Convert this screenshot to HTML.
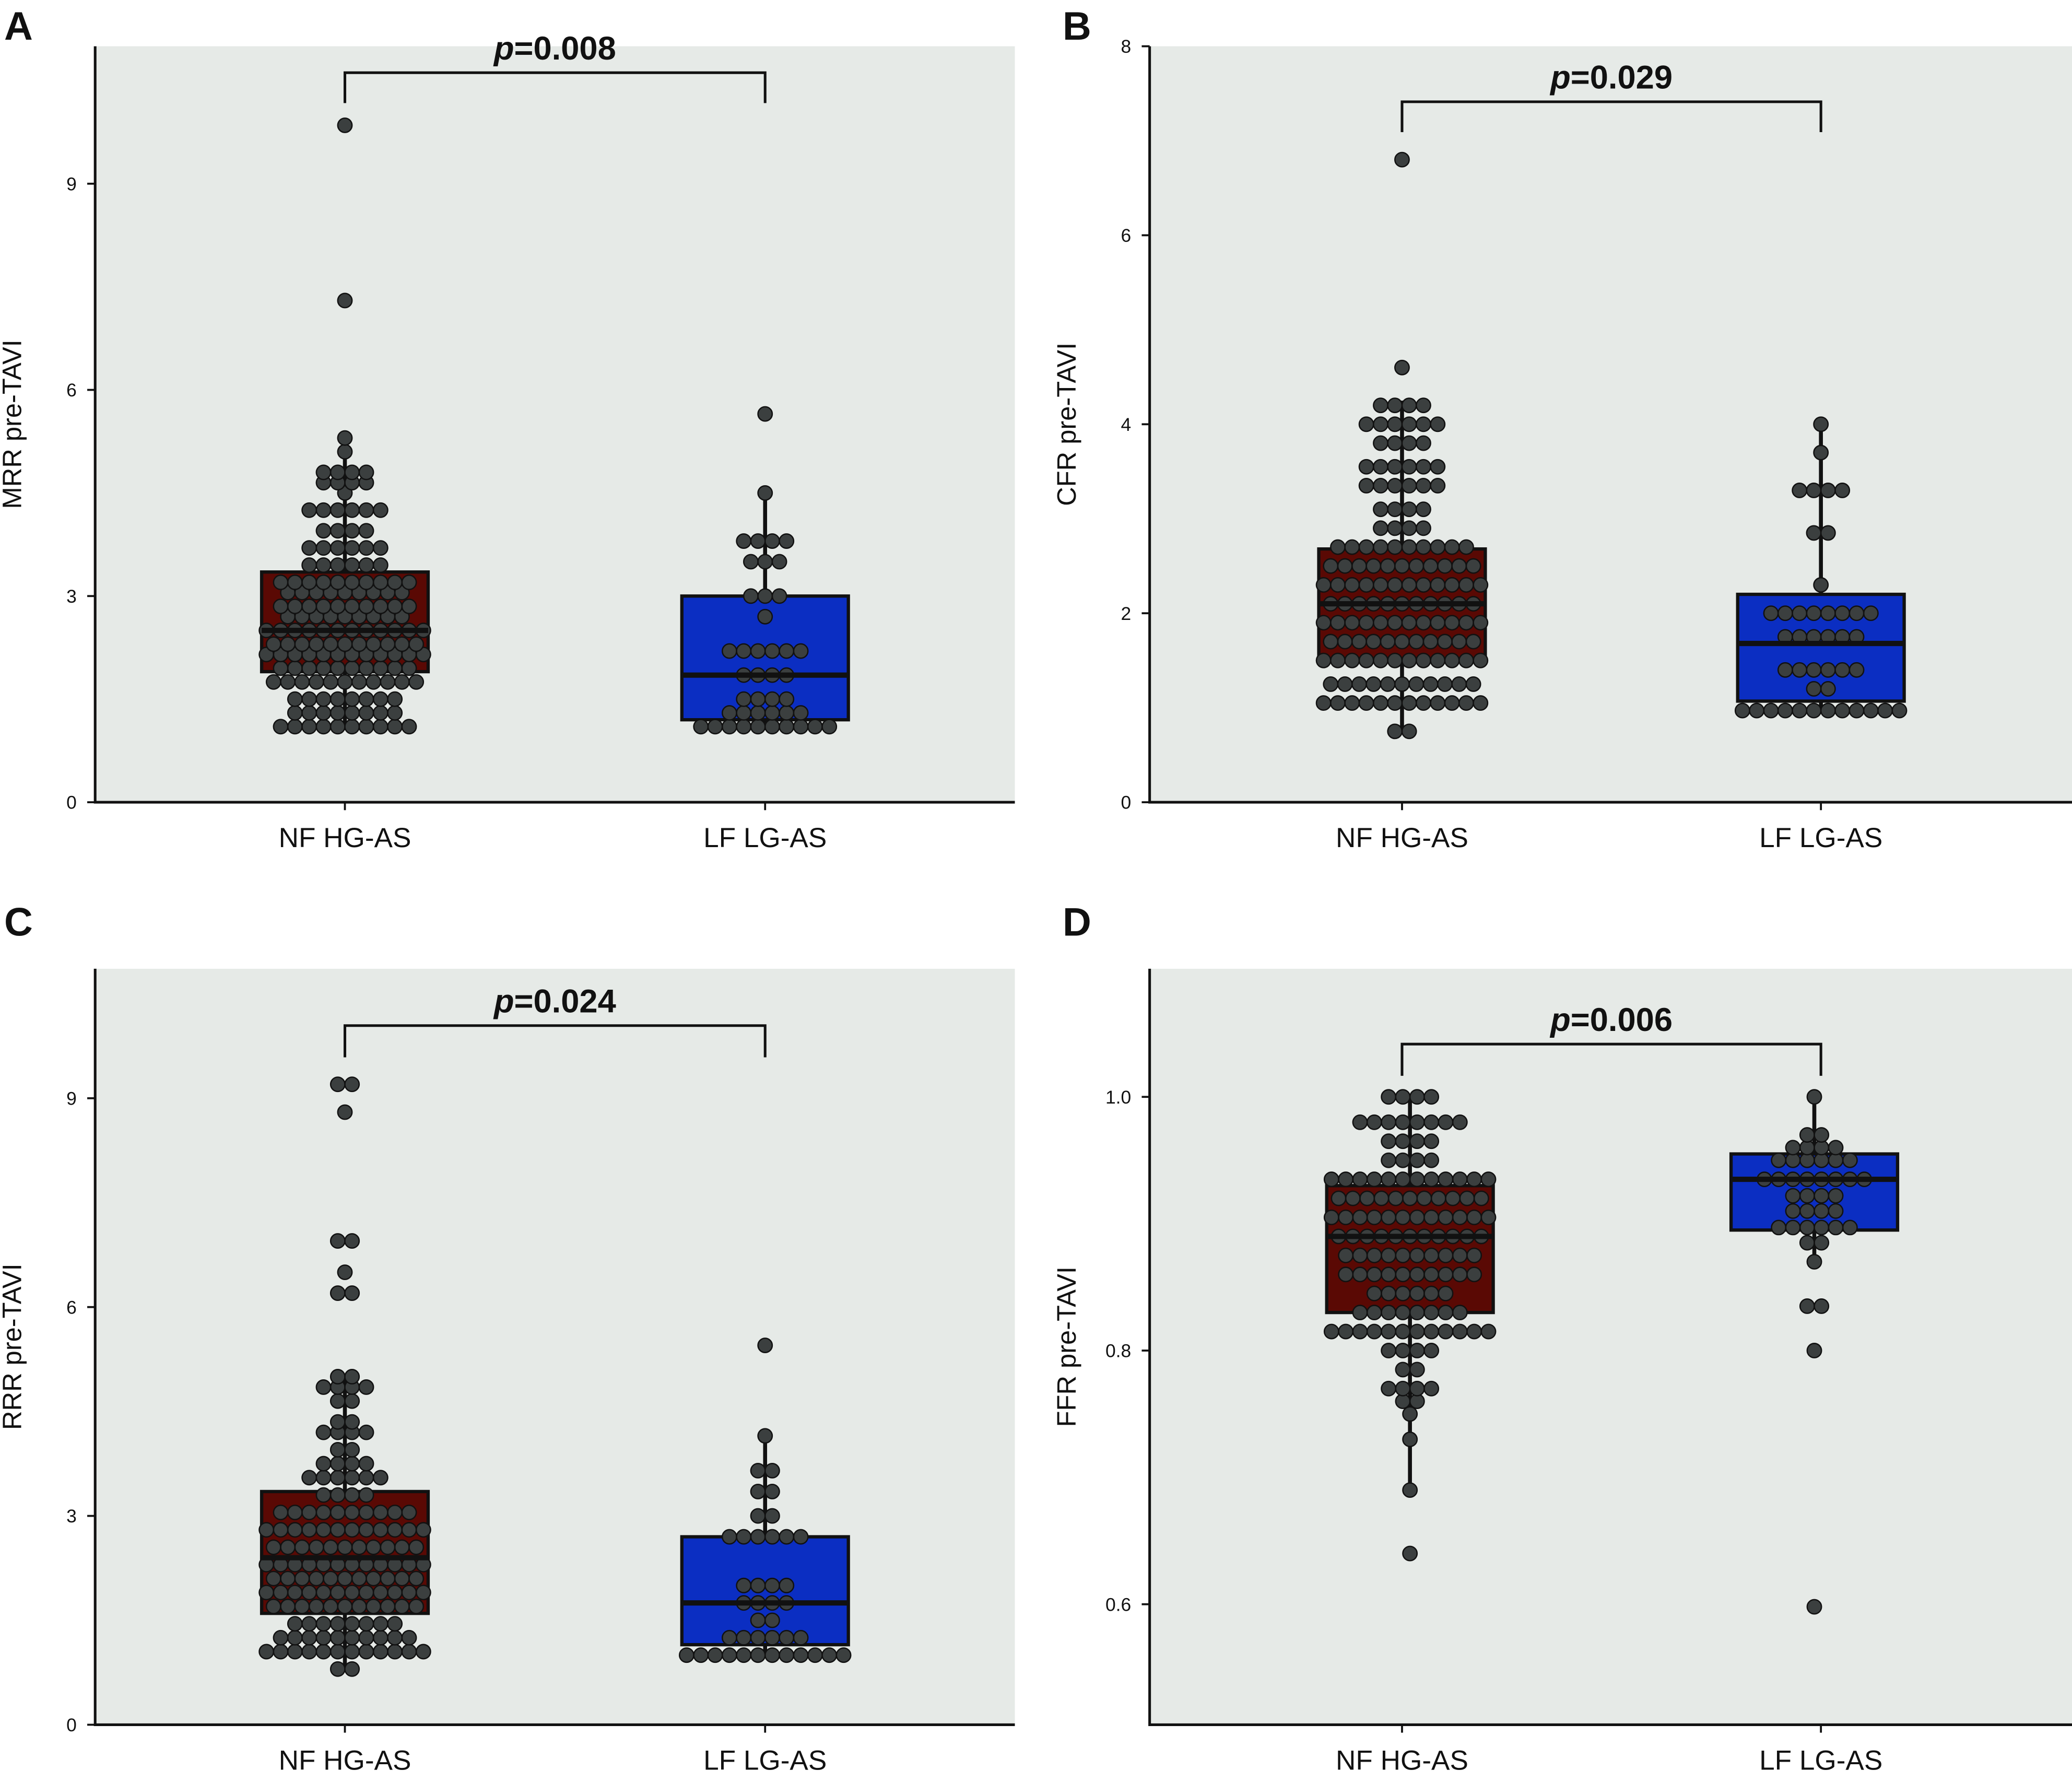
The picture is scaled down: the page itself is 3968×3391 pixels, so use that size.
<!DOCTYPE html>
<html><head><meta charset="utf-8"><style>
html,body{margin:0;padding:0;background:#fff}
svg{display:block}
text{font-family:"Liberation Sans Narrow","Liberation Sans",sans-serif;fill:#111}
</style></head><body>
<svg id="fig" width="3968" height="3391" viewBox="0 0 1568 1340" xmlns="http://www.w3.org/2000/svg"></svg>
<script>
// ---- data ----
const groups = ["NF HG-AS","LF LG-AS"];
const panelLetters = ["A","B","C","D"];
const yTitles = ["MRR pre-TAVI","CFR pre-TAVI","RRR pre-TAVI","FFR pre-TAVI"];
const pValues = ["0.008","0.029","0.024","0.006"];
const ticksA = [0,3,6,9];
const ticksB = [0,2,4,6,8];
const ticksC = [0,3,6,9];
const ticksD = [0.6,0.8,1.0];
// box stats: [whiskerLow, q1, median, q3, whiskerHigh]
const boxA_NF = [1.05,1.9,2.5,3.35,5.3];
const boxA_LF = [1.05,1.2,1.85,3.0,4.5];
const boxB_NF = [0.75,1.5,2.1,2.68,4.25];
const boxB_LF = [0.97,1.07,1.68,2.2,4.0];
const boxC_NF = [0.8,1.6,2.4,3.35,5.0];
const boxC_LF = [1.0,1.15,1.75,2.7,4.15];
const boxD_NF = [0.69,0.83,0.89,0.93,1.0];
const boxD_LF = [0.87,0.895,0.935,0.955,1.0];
// point values as [value,count]
const ptsA_NF = [[1.1,10],[1.3,8],[1.5,8],[1.75,11],[1.95,10],[2.15,12],[2.3,11],[2.5,12],[2.7,9],[2.85,10],[3.05,9],[3.2,10],[3.45,6],[3.7,6],[3.95,4],[4.25,6],[4.5,1],[4.65,4],[4.8,4],[5.1,1],[5.3,1],[7.3,1],[9.85,1]];
const ptsA_LF = [[1.1,10],[1.3,6],[1.5,4],[1.85,4],[2.2,6],[2.7,1],[3.0,3],[3.5,3],[3.8,4],[4.5,1],[5.65,1]];
const ptsB_NF = [[0.75,2],[1.05,12],[1.25,11],[1.5,12],[1.7,11],[1.9,12],[2.1,11],[2.3,12],[2.5,11],[2.7,10],[2.9,4],[3.1,4],[3.35,6],[3.55,6],[3.8,4],[4.0,6],[4.2,4],[4.6,1],[6.8,1]];
const ptsB_LF = [[0.97,12],[1.2,2],[1.4,6],[1.75,6],[2.0,8],[2.3,1],[2.85,2],[3.3,4],[3.7,1],[4.0,1]];
const ptsC_NF = [[0.8,2],[1.05,12],[1.25,10],[1.45,8],[1.7,11],[1.9,12],[2.1,11],[2.3,12],[2.55,11],[2.8,12],[3.05,10],[3.3,4],[3.55,6],[3.75,4],[3.95,2],[4.2,4],[4.35,2],[4.65,2],[4.85,4],[5.0,2],[6.2,2],[6.5,1],[6.95,2],[8.8,1],[9.2,2]];
const ptsC_LF = [[1.0,12],[1.25,6],[1.5,2],[1.75,4],[2.0,4],[2.7,6],[3.0,2],[3.35,2],[3.65,2],[4.15,1],[5.45,1]];
const ptsD_NF = [[0.64,1],[0.69,1],[0.73,1],[0.75,1],[0.76,2],[0.77,4],[0.785,2],[0.8,4],[0.815,12],[0.83,8],[0.845,6],[0.86,10],[0.875,10],[0.89,11],[0.905,12],[0.92,11],[0.935,12],[0.95,4],[0.965,4],[0.98,8],[1.0,4]];
const ptsD_LF = [[0.598,1],[0.8,1],[0.835,2],[0.87,1],[0.885,2],[0.897,6],[0.91,4],[0.922,4],[0.935,8],[0.95,6],[0.96,4],[0.97,2],[1.0,1]];

const NS="http://www.w3.org/2000/svg";
const svg=document.getElementById('fig');
function el(tag,attrs,parent){const e=document.createElementNS(NS,tag);for(const k in attrs)e.setAttribute(k,attrs[k]);(parent||svg).appendChild(e);return e;}

const panels=[
 {x0:72,x1:768,y0:35,y1:607,vmin:0,vmax:11,ticks:ticksA,dec:0,cx:[261,579],bx:[261,579],boxes:[boxA_NF,boxA_LF],pts:[ptsA_NF,ptsA_LF],brY:55,brD:23,lx:14,ly:18},
 {x0:870,x1:1568,y0:35,y1:607,vmin:0,vmax:8,ticks:ticksB,dec:0,cx:[1061,1378],bx:[1061,1378],boxes:[boxB_NF,boxB_LF],pts:[ptsB_NF,ptsB_LF],brY:77,brD:23,lx:815,ly:18},
 {x0:72,x1:768,y0:733,y1:1305,vmin:0,vmax:10.86,ticks:ticksC,dec:0,cx:[261,579],bx:[261,579],boxes:[boxC_NF,boxC_LF],pts:[ptsC_NF,ptsC_LF],brY:776,brD:24,lx:14,ly:696},
 {x0:870,x1:1568,y0:733,y1:1305,vmin:0.505,vmax:1.101,ticks:ticksD,dec:1,cx:[1061,1378],bx:[1067,1373],boxes:[boxD_NF,boxD_LF],pts:[ptsD_NF,ptsD_LF],brY:790,brD:24,lx:815,ly:696}
];
const boxColors=["#5a0904","#0b2ec2"];
const R=5.4;

panels.forEach((P,pi)=>{
  const g=el('g',{});
  
  
  const y=v=>P.y1-(v-P.vmin)/(P.vmax-P.vmin)*(P.y1-P.y0);
  const bg=el('rect',{x:P.x0,y:P.y0,width:P.x1-P.x0,height:P.y1-P.y0,fill:'#e6eae7'},g);
  
  const ax=el('path',{d:`M${P.x0},${P.y0}V${P.y1}H${P.x1}`,stroke:'#111',fill:'none','stroke-width':2},g);
  
  P.ticks.forEach(t=>{
    const yy=y(t);
    el('line',{x1:P.x0-6,x2:P.x0,y1:yy,y2:yy,stroke:'#111','stroke-width':1.5},g);
    const tx=el('text',{x:P.x0-14,y:yy+5,'font-size':14,'text-anchor':'end'},g);
    tx.textContent=t.toFixed(P.dec);
    
  });
  P.cx.forEach((c,i)=>{
    el('line',{x1:c,x2:c,y1:P.y1,y2:P.y1+6,stroke:'#111','stroke-width':1.5},g);
    const tx=el('text',{x:c,y:P.y1+34,'font-size':21,'text-anchor':'middle'},g);
    tx.textContent=groups[i];
    
  });
  const yt=el('text',{x:0,y:0,'font-size':20,'text-anchor':'middle',transform:`translate(${P.x0-56},${(P.y0+P.y1)/2}) rotate(-90)`},g);
  yt.textContent=yTitles[pi];
  
  const lt=el('text',{x:P.lx,y:P.ly+12,'font-size':30,'font-weight':'bold','text-anchor':'middle'},g);
  lt.textContent=panelLetters[pi];
  
  P.boxes.forEach((b,i)=>{
    const c=P.bx[i],w=126;
    el('line',{x1:c,x2:c,y1:y(b[0]),y2:y(b[4]),stroke:'#111','stroke-width':3},g);
    const r=el('rect',{x:c-w/2,y:y(b[3]),width:w,height:y(b[1])-y(b[3]),fill:boxColors[i],stroke:'#111','stroke-width':2.5},g);
    
  });
  // row swarm: each value row centered with spacing 2R
  P.pts.forEach((list,i)=>{
    const c=P.bx[i];
    list.forEach(([v,n])=>{
      const yy=y(v);
      for(let k=0;k<n;k++){
        const xx=c+(k-(n-1)/2)*2*R;
        const d=el('circle',{cx:xx,cy:yy,r:R,fill:'#3b3f3f',stroke:'#111','stroke-width':1},g);
        
      }
    });
  });
  P.boxes.forEach((b,i)=>{
    const c=P.bx[i],w=126;
    const m=el('line',{x1:c-w/2,x2:c+w/2,y1:y(b[2]),y2:y(b[2]),stroke:'#111','stroke-width':4},g);
    
  });
  const br=el('path',{d:`M${P.cx[0]},${P.brY+P.brD}V${P.brY}H${P.cx[1]}V${P.brY+P.brD}`,stroke:'#111',fill:'none','stroke-width':2},g);
  
  const pt=el('text',{x:(P.cx[0]+P.cx[1])/2,y:P.brY-10,'font-size':25,'font-weight':'bold','text-anchor':'middle'},g);
  pt.innerHTML='<tspan font-style="italic">p</tspan>='+pValues[pi];
  
});
</script>
</body></html>
